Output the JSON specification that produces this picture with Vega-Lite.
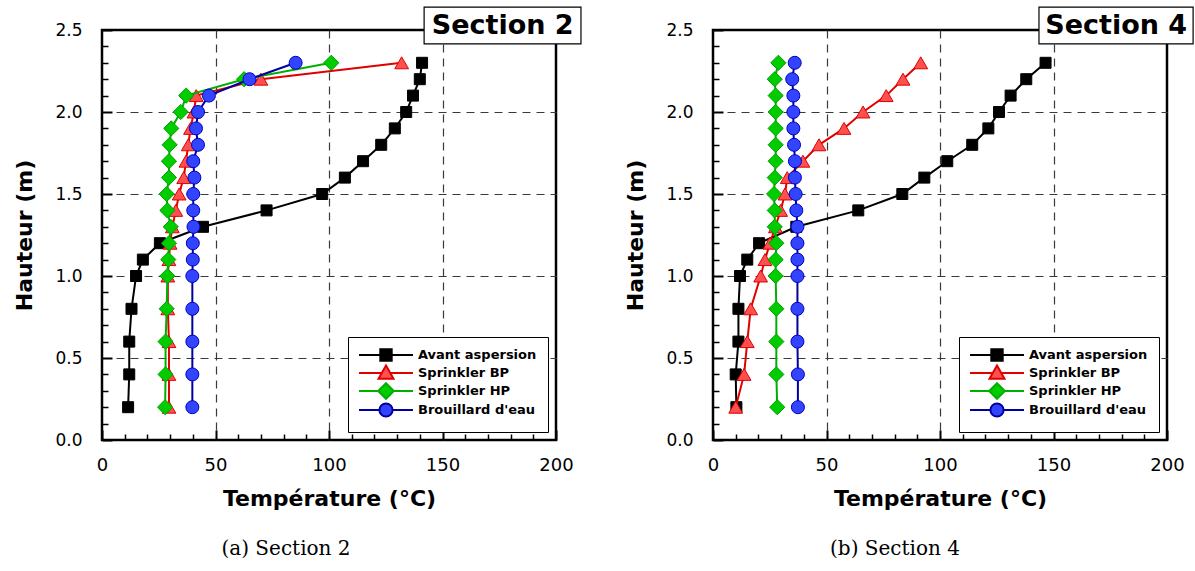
{
  "$schema": "https://vega.github.io/schema/vega-lite/v6.json",
  "background": "white",
  "padding": {"left": 12, "top": 5, "right": 0, "bottom": 0},
  "spacing": 157,
  "bounds": "flush",
  "datasets": {
    "s2": [
      {"series":"Avant aspersion","h":0.2,"T":11.5},{"series":"Avant aspersion","h":0.4,"T":12},{"series":"Avant aspersion","h":0.6,"T":12},{"series":"Avant aspersion","h":0.8,"T":13},{"series":"Avant aspersion","h":1.0,"T":15},{"series":"Avant aspersion","h":1.1,"T":18},{"series":"Avant aspersion","h":1.2,"T":25.5},{"series":"Avant aspersion","h":1.3,"T":44.5},{"series":"Avant aspersion","h":1.4,"T":72.5},{"series":"Avant aspersion","h":1.5,"T":97},{"series":"Avant aspersion","h":1.6,"T":107},{"series":"Avant aspersion","h":1.7,"T":115},{"series":"Avant aspersion","h":1.8,"T":123},{"series":"Avant aspersion","h":1.9,"T":129},{"series":"Avant aspersion","h":2.0,"T":134},{"series":"Avant aspersion","h":2.1,"T":137},{"series":"Avant aspersion","h":2.2,"T":140},{"series":"Avant aspersion","h":2.3,"T":141},
      {"series":"Sprinkler BP","h":0.2,"T":29.5},{"series":"Sprinkler BP","h":0.4,"T":29.5},{"series":"Sprinkler BP","h":0.6,"T":29.5},{"series":"Sprinkler BP","h":0.8,"T":29},{"series":"Sprinkler BP","h":1.0,"T":29},{"series":"Sprinkler BP","h":1.1,"T":29.5},{"series":"Sprinkler BP","h":1.2,"T":30},{"series":"Sprinkler BP","h":1.3,"T":31},{"series":"Sprinkler BP","h":1.4,"T":32.5},{"series":"Sprinkler BP","h":1.5,"T":34},{"series":"Sprinkler BP","h":1.6,"T":36},{"series":"Sprinkler BP","h":1.7,"T":37},{"series":"Sprinkler BP","h":1.8,"T":38},{"series":"Sprinkler BP","h":1.9,"T":39},{"series":"Sprinkler BP","h":2.0,"T":40.5},{"series":"Sprinkler BP","h":2.1,"T":41.5},{"series":"Sprinkler BP","h":2.2,"T":70},{"series":"Sprinkler BP","h":2.3,"T":132},
      {"series":"Sprinkler HP","h":0.2,"T":27.8},{"series":"Sprinkler HP","h":0.4,"T":28},{"series":"Sprinkler HP","h":0.6,"T":28},{"series":"Sprinkler HP","h":0.8,"T":28.5},{"series":"Sprinkler HP","h":1.0,"T":28.8},{"series":"Sprinkler HP","h":1.1,"T":29.2},{"series":"Sprinkler HP","h":1.2,"T":29.5},{"series":"Sprinkler HP","h":1.3,"T":30.3},{"series":"Sprinkler HP","h":1.4,"T":28.8},{"series":"Sprinkler HP","h":1.5,"T":28.5},{"series":"Sprinkler HP","h":1.6,"T":29.5},{"series":"Sprinkler HP","h":1.7,"T":29.5},{"series":"Sprinkler HP","h":1.8,"T":29.8},{"series":"Sprinkler HP","h":1.9,"T":30.5},{"series":"Sprinkler HP","h":2.0,"T":34.7},{"series":"Sprinkler HP","h":2.1,"T":37.1},{"series":"Sprinkler HP","h":2.2,"T":62.6},{"series":"Sprinkler HP","h":2.3,"T":101},
      {"series":"Brouillard d'eau","h":0.2,"T":39.8},{"series":"Brouillard d'eau","h":0.4,"T":39.8},{"series":"Brouillard d'eau","h":0.6,"T":39.8},{"series":"Brouillard d'eau","h":0.8,"T":39.8},{"series":"Brouillard d'eau","h":1.0,"T":39.8},{"series":"Brouillard d'eau","h":1.1,"T":40},{"series":"Brouillard d'eau","h":1.2,"T":40},{"series":"Brouillard d'eau","h":1.3,"T":40.3},{"series":"Brouillard d'eau","h":1.4,"T":40.2},{"series":"Brouillard d'eau","h":1.5,"T":40.2},{"series":"Brouillard d'eau","h":1.6,"T":40.7},{"series":"Brouillard d'eau","h":1.7,"T":40.2},{"series":"Brouillard d'eau","h":1.8,"T":42.3},{"series":"Brouillard d'eau","h":1.9,"T":41.4},{"series":"Brouillard d'eau","h":2.0,"T":42.3},{"series":"Brouillard d'eau","h":2.1,"T":47.1},{"series":"Brouillard d'eau","h":2.2,"T":65},{"series":"Brouillard d'eau","h":2.3,"T":85.3}
    ],
    "s4": [
      {"series":"Avant aspersion","h":0.2,"T":10.3},{"series":"Avant aspersion","h":0.4,"T":10},{"series":"Avant aspersion","h":0.6,"T":11.2},{"series":"Avant aspersion","h":0.8,"T":11.2},{"series":"Avant aspersion","h":1.0,"T":11.9},{"series":"Avant aspersion","h":1.1,"T":15.1},{"series":"Avant aspersion","h":1.2,"T":20.3},{"series":"Avant aspersion","h":1.3,"T":36.7},{"series":"Avant aspersion","h":1.4,"T":64},{"series":"Avant aspersion","h":1.5,"T":83.4},{"series":"Avant aspersion","h":1.6,"T":93.1},{"series":"Avant aspersion","h":1.7,"T":103.2},{"series":"Avant aspersion","h":1.8,"T":114.2},{"series":"Avant aspersion","h":1.9,"T":121.3},{"series":"Avant aspersion","h":2.0,"T":126},{"series":"Avant aspersion","h":2.1,"T":131.1},{"series":"Avant aspersion","h":2.2,"T":138},{"series":"Avant aspersion","h":2.3,"T":146.5},
      {"series":"Sprinkler BP","h":0.2,"T":10},{"series":"Sprinkler BP","h":0.4,"T":13.7},{"series":"Sprinkler BP","h":0.6,"T":15.1},{"series":"Sprinkler BP","h":0.8,"T":16.6},{"series":"Sprinkler BP","h":1.0,"T":21},{"series":"Sprinkler BP","h":1.1,"T":22.9},{"series":"Sprinkler BP","h":1.2,"T":25.1},{"series":"Sprinkler BP","h":1.3,"T":27.5},{"series":"Sprinkler BP","h":1.4,"T":29.8},{"series":"Sprinkler BP","h":1.5,"T":31.7},{"series":"Sprinkler BP","h":1.6,"T":32.7},{"series":"Sprinkler BP","h":1.7,"T":39.6},{"series":"Sprinkler BP","h":1.8,"T":46.7},{"series":"Sprinkler BP","h":1.9,"T":57.7},{"series":"Sprinkler BP","h":2.0,"T":66.1},{"series":"Sprinkler BP","h":2.1,"T":76.3},{"series":"Sprinkler BP","h":2.2,"T":83.7},{"series":"Sprinkler BP","h":2.3,"T":91.5},
      {"series":"Sprinkler HP","h":0.2,"T":28.3},{"series":"Sprinkler HP","h":0.4,"T":27.9},{"series":"Sprinkler HP","h":0.6,"T":27.9},{"series":"Sprinkler HP","h":0.8,"T":27.9},{"series":"Sprinkler HP","h":1.0,"T":27.6},{"series":"Sprinkler HP","h":1.1,"T":27.6},{"series":"Sprinkler HP","h":1.2,"T":27.9},{"series":"Sprinkler HP","h":1.3,"T":27.2},{"series":"Sprinkler HP","h":1.4,"T":27.2},{"series":"Sprinkler HP","h":1.5,"T":26.9},{"series":"Sprinkler HP","h":1.6,"T":27.2},{"series":"Sprinkler HP","h":1.7,"T":27.6},{"series":"Sprinkler HP","h":1.8,"T":27.6},{"series":"Sprinkler HP","h":1.9,"T":27.6},{"series":"Sprinkler HP","h":2.0,"T":27.6},{"series":"Sprinkler HP","h":2.1,"T":27.6},{"series":"Sprinkler HP","h":2.2,"T":27.2},{"series":"Sprinkler HP","h":2.3,"T":28.8},
      {"series":"Brouillard d'eau","h":0.2,"T":37.4},{"series":"Brouillard d'eau","h":0.4,"T":37.4},{"series":"Brouillard d'eau","h":0.6,"T":37.2},{"series":"Brouillard d'eau","h":0.8,"T":37.2},{"series":"Brouillard d'eau","h":1.0,"T":37.2},{"series":"Brouillard d'eau","h":1.1,"T":37.2},{"series":"Brouillard d'eau","h":1.2,"T":37.2},{"series":"Brouillard d'eau","h":1.3,"T":37.2},{"series":"Brouillard d'eau","h":1.4,"T":36.7},{"series":"Brouillard d'eau","h":1.5,"T":36.4},{"series":"Brouillard d'eau","h":1.6,"T":36.1},{"series":"Brouillard d'eau","h":1.7,"T":36.1},{"series":"Brouillard d'eau","h":1.8,"T":35.7},{"series":"Brouillard d'eau","h":1.9,"T":35.4},{"series":"Brouillard d'eau","h":2.0,"T":35.4},{"series":"Brouillard d'eau","h":2.1,"T":35.4},{"series":"Brouillard d'eau","h":2.2,"T":34.9},{"series":"Brouillard d'eau","h":2.3,"T":36}
    ]
  },
  "hconcat": [
    {
      "width": 454, "height": 410,
      "data": {"name": "s2"},
      "title": {"text": "(a) Section 2", "orient": "bottom", "anchor": "middle", "frame": "group", "dx": -43, "offset": 30, "font": "DejaVu Serif", "fontSize": 20, "fontWeight": "normal", "color": "black"},
      "resolve": {"axis": {"x": "independent", "y": "independent"}},
      "layer": [
        {
          "mark": {"type": "point", "filled": true, "opacity": 0, "size": 144},
          "encoding": {
            "x": {"field": "T", "type": "quantitative", "scale": {"domain": [0, 200], "nice": false}, "axis": {"orient": "bottom", "values": [10,20,30,40,60,70,80,90,110,120,130,140,160,170,180,190], "tickSize": -6, "tickWidth": 1.5, "tickColor": "black", "labels": false, "grid": false, "domain": false, "title": null}},
            "y": {"field": "h", "type": "quantitative", "scale": {"domain": [0, 2.5], "nice": false}, "axis": {"orient": "left", "values": [0.1,0.2,0.3,0.4,0.6,0.7,0.8,0.9,1.1,1.2,1.3,1.4,1.6,1.7,1.8,1.9,2.1,2.2,2.3,2.4], "tickSize": -6, "tickWidth": 1.5, "tickColor": "black", "labels": false, "grid": false, "domain": false, "title": null}},
            "shape": {"field": "series", "type": "nominal", "legend": {"title": null}, "scale": {"domain": ["Avant aspersion", "Sprinkler BP", "Sprinkler HP", "Brouillard d'eau"], "range": ["M-4.5,0H-0.95M0.95,0H4.5M-0.95,-0.95H0.95V0.95H-0.95Z", "M-4.5,0H-0.7M0.7,0H4.5M0,-1.25L1.25,0.95H-1.25Z", "M-4.5,0H-1.3M1.3,0H4.5M0,-1.3L1.3,0L0,1.3L-1.3,0Z", "M-4.5,0H-1.1M1.1,0H4.5M1.1,0A1.1,1.1,0,1,1,-1.1,0A1.1,1.1,0,1,1,1.1,0Z"]}},
            "fill": {"field": "series", "type": "nominal", "legend": {"title": null}, "scale": {"domain": ["Avant aspersion", "Sprinkler BP", "Sprinkler HP", "Brouillard d'eau"], "range": ["#000000", "#ff5050", "#00cc00", "#3344ff"]}},
            "stroke": {"field": "series", "type": "nominal", "legend": {"title": null}, "scale": {"domain": ["Avant aspersion", "Sprinkler BP", "Sprinkler HP", "Brouillard d'eau"], "range": ["#000000", "#e00000", "#00b000", "#0000a0"]}}
          }
        },
        {
          "transform": [{"filter": {"field": "series", "equal": "Avant aspersion"}}],
          "mark": {"type": "line", "color": "#000000", "strokeWidth": 2},
          "encoding": {
            "x": {"field": "T", "type": "quantitative", "scale": {"domain": [0, 200], "nice": false}, "axis": {"orient": "bottom", "values": [0,50,100,150,200], "format": "d", "tickSize": -10, "tickWidth": 2, "tickColor": "black", "labelPadding": 26, "labelFont": "DejaVu Sans", "labelFontSize": 18, "labelColor": "black", "labelFlush": false, "labelOverlap": false, "domain": false, "grid": true, "gridColor": "#3a3a3a", "gridWidth": 1.2, "gridDash": [8, 6], "gridOpacity": {"condition": {"test": "datum.value == 0 || datum.value == 200", "value": 0}, "value": 1}, "title": "Température (°C)", "titleFont": "DejaVu Sans", "titleFontSize": 22, "titleFontWeight": "bold", "titleColor": "black", "titlePadding": 14}},
            "y": {"field": "h", "type": "quantitative", "scale": {"domain": [0, 2.5], "nice": false}, "axis": {"orient": "left", "values": [0,0.5,1,1.5,2,2.5], "format": ".1f", "tickSize": -10, "tickWidth": 2, "tickColor": "black", "labelPadding": 30, "labelFont": "DejaVu Sans", "labelFontSize": 17, "labelColor": "black", "labelFlush": false, "labelOverlap": false, "domain": false, "grid": true, "gridColor": "#3a3a3a", "gridWidth": 1.2, "gridDash": [8, 6], "gridOpacity": {"condition": {"test": "datum.value == 0 || datum.value == 2.5", "value": 0}, "value": 1}, "title": "Hauteur (m)", "titleFont": "DejaVu Sans", "titleFontSize": 22, "titleFontWeight": "bold", "titleColor": "black", "titlePadding": 18}},
            "order": {"field": "h", "type": "quantitative"}
          }
        },
        {
          "transform": [{"filter": {"field": "series", "equal": "Avant aspersion"}}],
          "mark": {"type": "point", "shape": "square", "filled": true, "fill": "#000000", "stroke": "#000000", "strokeWidth": 1, "size": 121, "opacity": 1},
          "encoding": {
            "x": {"field": "T", "type": "quantitative", "scale": {"domain": [0, 200], "nice": false}, "axis": null},
            "y": {"field": "h", "type": "quantitative", "scale": {"domain": [0, 2.5], "nice": false}, "axis": null}
          }
        },
        {
          "transform": [{"filter": {"field": "series", "equal": "Sprinkler BP"}}],
          "mark": {"type": "line", "color": "#e00000", "strokeWidth": 2},
          "encoding": {
            "x": {"field": "T", "type": "quantitative", "scale": {"domain": [0, 200], "nice": false}, "axis": null},
            "y": {"field": "h", "type": "quantitative", "scale": {"domain": [0, 2.5], "nice": false}, "axis": null},
            "order": {"field": "h", "type": "quantitative"}
          }
        },
        {
          "transform": [{"filter": {"field": "series", "equal": "Sprinkler BP"}}],
          "mark": {"type": "point", "shape": "triangle-up", "filled": true, "fill": "#ff5050", "stroke": "#e00000", "strokeWidth": 1, "size": 190, "opacity": 1},
          "encoding": {
            "x": {"field": "T", "type": "quantitative", "scale": {"domain": [0, 200], "nice": false}, "axis": null},
            "y": {"field": "h", "type": "quantitative", "scale": {"domain": [0, 2.5], "nice": false}, "axis": null}
          }
        },
        {
          "transform": [{"filter": {"field": "series", "equal": "Sprinkler HP"}}],
          "mark": {"type": "line", "color": "#00b000", "strokeWidth": 2},
          "encoding": {
            "x": {"field": "T", "type": "quantitative", "scale": {"domain": [0, 200], "nice": false}, "axis": null},
            "y": {"field": "h", "type": "quantitative", "scale": {"domain": [0, 2.5], "nice": false}, "axis": null},
            "order": {"field": "h", "type": "quantitative"}
          }
        },
        {
          "transform": [{"filter": {"field": "series", "equal": "Sprinkler HP"}}],
          "mark": {"type": "point", "shape": "diamond", "filled": true, "fill": "#00cc00", "stroke": "#00a000", "strokeWidth": 1, "size": 230, "opacity": 1},
          "encoding": {
            "x": {"field": "T", "type": "quantitative", "scale": {"domain": [0, 200], "nice": false}, "axis": null},
            "y": {"field": "h", "type": "quantitative", "scale": {"domain": [0, 2.5], "nice": false}, "axis": null}
          }
        },
        {
          "transform": [{"filter": {"field": "series", "equal": "Brouillard d'eau"}}],
          "mark": {"type": "line", "color": "#0000a0", "strokeWidth": 2},
          "encoding": {
            "x": {"field": "T", "type": "quantitative", "scale": {"domain": [0, 200], "nice": false}, "axis": null},
            "y": {"field": "h", "type": "quantitative", "scale": {"domain": [0, 2.5], "nice": false}, "axis": null},
            "order": {"field": "h", "type": "quantitative"}
          }
        },
        {
          "transform": [{"filter": {"field": "series", "equal": "Brouillard d'eau"}}],
          "mark": {"type": "point", "shape": "circle", "filled": true, "fill": "#3344ff", "stroke": "#0000c0", "strokeWidth": 1, "size": 169, "opacity": 1},
          "encoding": {
            "x": {"field": "T", "type": "quantitative", "scale": {"domain": [0, 200], "nice": false}, "axis": null},
            "y": {"field": "h", "type": "quantitative", "scale": {"domain": [0, 2.5], "nice": false}, "axis": null}
          }
        },
        {
          "data": {"values": [{"label": "Section 2"}]},
          "mark": {"type": "rect", "fill": "white", "stroke": "black", "strokeWidth": 1.2},
          "encoding": {
            "x": {"datum": 141.9, "type": "quantitative", "scale": {"domain": [0, 200], "nice": false}, "axis": null},
            "x2": {"datum": 211},
            "y": {"datum": 2.415, "type": "quantitative", "scale": {"domain": [0, 2.5], "nice": false}, "axis": null},
            "y2": {"datum": 2.64}
          }
        },
        {
          "data": {"values": [{"label": "Section 2"}]},
          "mark": {"type": "text", "font": "DejaVu Sans", "fontSize": 27, "fontWeight": "bold", "color": "black", "align": "center", "baseline": "middle"},
          "encoding": {
            "x": {"datum": 176.5, "type": "quantitative", "scale": {"domain": [0, 200], "nice": false}, "axis": null},
            "y": {"datum": 2.527, "type": "quantitative", "scale": {"domain": [0, 2.5], "nice": false}, "axis": null},
            "text": {"field": "label"}
          }
        }
      ]
    },
    {
      "width": 454, "height": 410,
      "data": {"name": "s4"},
      "title": {"text": "(b) Section 4", "orient": "bottom", "anchor": "middle", "frame": "group", "dx": -45, "offset": 30, "font": "DejaVu Serif", "fontSize": 20, "fontWeight": "normal", "color": "black"},
      "resolve": {"axis": {"x": "independent", "y": "independent"}},
      "layer": [
        {
          "mark": {"type": "point", "filled": true, "opacity": 0, "size": 144},
          "encoding": {
            "x": {"field": "T", "type": "quantitative", "scale": {"domain": [0, 200], "nice": false}, "axis": {"orient": "bottom", "values": [10,20,30,40,60,70,80,90,110,120,130,140,160,170,180,190], "tickSize": -6, "tickWidth": 1.5, "tickColor": "black", "labels": false, "grid": false, "domain": false, "title": null}},
            "y": {"field": "h", "type": "quantitative", "scale": {"domain": [0, 2.5], "nice": false}, "axis": {"orient": "left", "values": [0.1,0.2,0.3,0.4,0.6,0.7,0.8,0.9,1.1,1.2,1.3,1.4,1.6,1.7,1.8,1.9,2.1,2.2,2.3,2.4], "tickSize": -6, "tickWidth": 1.5, "tickColor": "black", "labels": false, "grid": false, "domain": false, "title": null}},
            "shape": {"field": "series", "type": "nominal", "legend": {"title": null}, "scale": {"domain": ["Avant aspersion", "Sprinkler BP", "Sprinkler HP", "Brouillard d'eau"], "range": ["M-4.5,0H-0.95M0.95,0H4.5M-0.95,-0.95H0.95V0.95H-0.95Z", "M-4.5,0H-0.7M0.7,0H4.5M0,-1.25L1.25,0.95H-1.25Z", "M-4.5,0H-1.3M1.3,0H4.5M0,-1.3L1.3,0L0,1.3L-1.3,0Z", "M-4.5,0H-1.1M1.1,0H4.5M1.1,0A1.1,1.1,0,1,1,-1.1,0A1.1,1.1,0,1,1,1.1,0Z"]}},
            "fill": {"field": "series", "type": "nominal", "legend": {"title": null}, "scale": {"domain": ["Avant aspersion", "Sprinkler BP", "Sprinkler HP", "Brouillard d'eau"], "range": ["#000000", "#ff5050", "#00cc00", "#3344ff"]}},
            "stroke": {"field": "series", "type": "nominal", "legend": {"title": null}, "scale": {"domain": ["Avant aspersion", "Sprinkler BP", "Sprinkler HP", "Brouillard d'eau"], "range": ["#000000", "#e00000", "#00b000", "#0000a0"]}}
          }
        },
        {
          "transform": [{"filter": {"field": "series", "equal": "Avant aspersion"}}],
          "mark": {"type": "line", "color": "#000000", "strokeWidth": 2},
          "encoding": {
            "x": {"field": "T", "type": "quantitative", "scale": {"domain": [0, 200], "nice": false}, "axis": {"orient": "bottom", "values": [0,50,100,150,200], "format": "d", "tickSize": -10, "tickWidth": 2, "tickColor": "black", "labelPadding": 26, "labelFont": "DejaVu Sans", "labelFontSize": 18, "labelColor": "black", "labelFlush": false, "labelOverlap": false, "domain": false, "grid": true, "gridColor": "#3a3a3a", "gridWidth": 1.2, "gridDash": [8, 6], "gridOpacity": {"condition": {"test": "datum.value == 0 || datum.value == 200", "value": 0}, "value": 1}, "title": "Température (°C)", "titleFont": "DejaVu Sans", "titleFontSize": 22, "titleFontWeight": "bold", "titleColor": "black", "titlePadding": 14}},
            "y": {"field": "h", "type": "quantitative", "scale": {"domain": [0, 2.5], "nice": false}, "axis": {"orient": "left", "values": [0,0.5,1,1.5,2,2.5], "format": ".1f", "tickSize": -10, "tickWidth": 2, "tickColor": "black", "labelPadding": 30, "labelFont": "DejaVu Sans", "labelFontSize": 17, "labelColor": "black", "labelFlush": false, "labelOverlap": false, "domain": false, "grid": true, "gridColor": "#3a3a3a", "gridWidth": 1.2, "gridDash": [8, 6], "gridOpacity": {"condition": {"test": "datum.value == 0 || datum.value == 2.5", "value": 0}, "value": 1}, "title": "Hauteur (m)", "titleFont": "DejaVu Sans", "titleFontSize": 22, "titleFontWeight": "bold", "titleColor": "black", "titlePadding": 18}},
            "order": {"field": "h", "type": "quantitative"}
          }
        },
        {
          "transform": [{"filter": {"field": "series", "equal": "Avant aspersion"}}],
          "mark": {"type": "point", "shape": "square", "filled": true, "fill": "#000000", "stroke": "#000000", "strokeWidth": 1, "size": 121, "opacity": 1},
          "encoding": {
            "x": {"field": "T", "type": "quantitative", "scale": {"domain": [0, 200], "nice": false}, "axis": null},
            "y": {"field": "h", "type": "quantitative", "scale": {"domain": [0, 2.5], "nice": false}, "axis": null}
          }
        },
        {
          "transform": [{"filter": {"field": "series", "equal": "Sprinkler BP"}}],
          "mark": {"type": "line", "color": "#e00000", "strokeWidth": 2},
          "encoding": {
            "x": {"field": "T", "type": "quantitative", "scale": {"domain": [0, 200], "nice": false}, "axis": null},
            "y": {"field": "h", "type": "quantitative", "scale": {"domain": [0, 2.5], "nice": false}, "axis": null},
            "order": {"field": "h", "type": "quantitative"}
          }
        },
        {
          "transform": [{"filter": {"field": "series", "equal": "Sprinkler BP"}}],
          "mark": {"type": "point", "shape": "triangle-up", "filled": true, "fill": "#ff5050", "stroke": "#e00000", "strokeWidth": 1, "size": 190, "opacity": 1},
          "encoding": {
            "x": {"field": "T", "type": "quantitative", "scale": {"domain": [0, 200], "nice": false}, "axis": null},
            "y": {"field": "h", "type": "quantitative", "scale": {"domain": [0, 2.5], "nice": false}, "axis": null}
          }
        },
        {
          "transform": [{"filter": {"field": "series", "equal": "Sprinkler HP"}}],
          "mark": {"type": "line", "color": "#00b000", "strokeWidth": 2},
          "encoding": {
            "x": {"field": "T", "type": "quantitative", "scale": {"domain": [0, 200], "nice": false}, "axis": null},
            "y": {"field": "h", "type": "quantitative", "scale": {"domain": [0, 2.5], "nice": false}, "axis": null},
            "order": {"field": "h", "type": "quantitative"}
          }
        },
        {
          "transform": [{"filter": {"field": "series", "equal": "Sprinkler HP"}}],
          "mark": {"type": "point", "shape": "diamond", "filled": true, "fill": "#00cc00", "stroke": "#00a000", "strokeWidth": 1, "size": 230, "opacity": 1},
          "encoding": {
            "x": {"field": "T", "type": "quantitative", "scale": {"domain": [0, 200], "nice": false}, "axis": null},
            "y": {"field": "h", "type": "quantitative", "scale": {"domain": [0, 2.5], "nice": false}, "axis": null}
          }
        },
        {
          "transform": [{"filter": {"field": "series", "equal": "Brouillard d'eau"}}],
          "mark": {"type": "line", "color": "#0000a0", "strokeWidth": 2},
          "encoding": {
            "x": {"field": "T", "type": "quantitative", "scale": {"domain": [0, 200], "nice": false}, "axis": null},
            "y": {"field": "h", "type": "quantitative", "scale": {"domain": [0, 2.5], "nice": false}, "axis": null},
            "order": {"field": "h", "type": "quantitative"}
          }
        },
        {
          "transform": [{"filter": {"field": "series", "equal": "Brouillard d'eau"}}],
          "mark": {"type": "point", "shape": "circle", "filled": true, "fill": "#3344ff", "stroke": "#0000c0", "strokeWidth": 1, "size": 169, "opacity": 1},
          "encoding": {
            "x": {"field": "T", "type": "quantitative", "scale": {"domain": [0, 200], "nice": false}, "axis": null},
            "y": {"field": "h", "type": "quantitative", "scale": {"domain": [0, 2.5], "nice": false}, "axis": null}
          }
        },
        {
          "data": {"values": [{"label": "Section 4"}]},
          "mark": {"type": "rect", "fill": "white", "stroke": "black", "strokeWidth": 1.2},
          "encoding": {
            "x": {"datum": 143.6, "type": "quantitative", "scale": {"domain": [0, 200], "nice": false}, "axis": null},
            "x2": {"datum": 211.5},
            "y": {"datum": 2.415, "type": "quantitative", "scale": {"domain": [0, 2.5], "nice": false}, "axis": null},
            "y2": {"datum": 2.64}
          }
        },
        {
          "data": {"values": [{"label": "Section 4"}]},
          "mark": {"type": "text", "font": "DejaVu Sans", "fontSize": 27, "fontWeight": "bold", "color": "black", "align": "center", "baseline": "middle"},
          "encoding": {
            "x": {"datum": 177.6, "type": "quantitative", "scale": {"domain": [0, 200], "nice": false}, "axis": null},
            "y": {"datum": 2.527, "type": "quantitative", "scale": {"domain": [0, 2.5], "nice": false}, "axis": null},
            "text": {"field": "label"}
          }
        }
      ]
    }
  ],
  "resolve": {
    "scale": {"shape": "independent", "fill": "independent", "stroke": "independent"},
    "legend": {"shape": "independent", "fill": "independent", "stroke": "independent"}
  },
  "config": {
    "view": {"stroke": "black", "strokeWidth": 2.5},
    "legend": {
      "orient": "bottom-right",
      "offset": 8,
      "padding": 11,
      "strokeColor": "black",
      "fillColor": "white",
      "labelFont": "DejaVu Sans",
      "labelFontSize": 13,
      "labelFontWeight": "bold",
      "labelColor": "black",
      "symbolSize": 144,
      "symbolStrokeWidth": 2,
      "symbolOffset": 20,
      "labelOffset": 25,
      "rowPadding": -4,
      "symbolOpacity": 1
    }
  }
}
